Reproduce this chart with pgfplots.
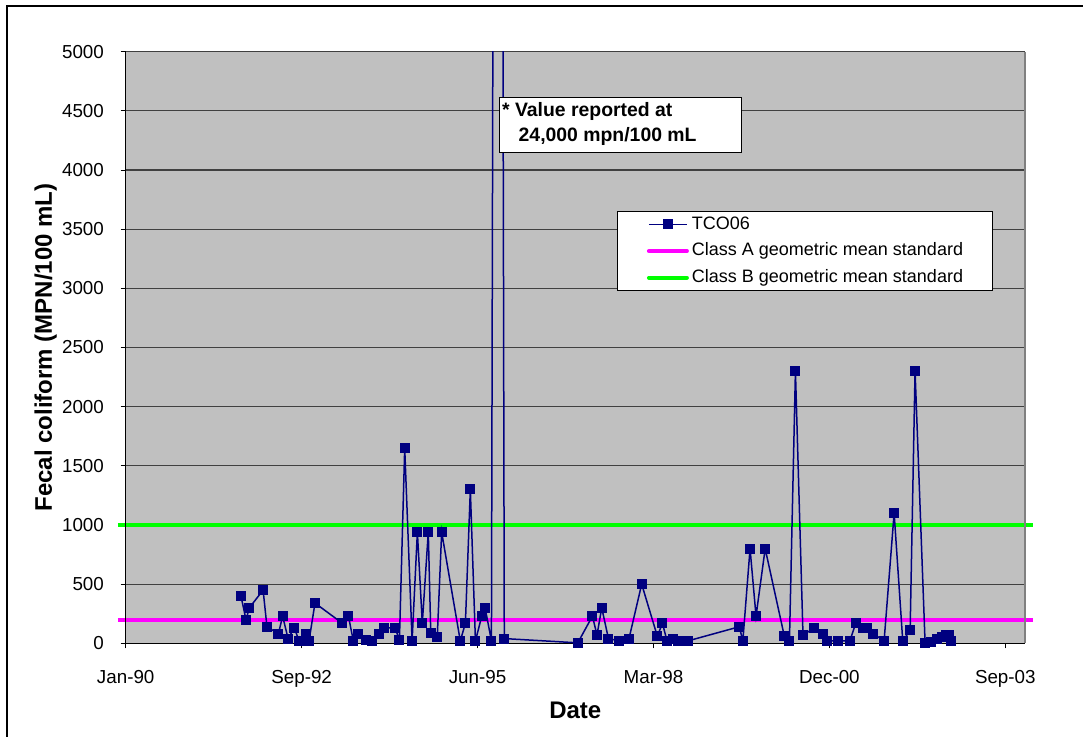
\documentclass[border=0pt]{standalone}
\usepackage{pgfplots}
\pgfplotsset{compat=1.18}
\usepackage{fontspec}
\setmainfont{Liberation Sans}
\definecolor{navyc}{RGB}{0,0,128}
\definecolor{magc}{RGB}{255,0,255}
\definecolor{greenc}{RGB}{0,255,0}
\definecolor{bgc}{RGB}{192,192,192}
\definecolor{gridc}{RGB}{64,64,64}
\pgfplotstableread{
day val
655 400
684 200
703 300
781 450
803 140
868 80
892 230
923 40
959 130
985 20
1027 80
1042 20
1076 340
1231 170
1266 230
1294 20
1323 80
1366 30
1398 20
1438 80
1469 130
1531 130
1556 30
1586 1650
1628 20
1658 940
1686 170
1720 940
1734 90
1771 50
1796 940
1902 20
1931 170
1959 1300
1988 20
2024 230
2043 300
2079 20
2117 24000
2152 40
2570 4
2653 230
2679 70
2706 300
2744 40
2806 20
2861 40
2933 500
3022 60
3051 170
3077 20
3113 40
3140 20
3195 20
3488 140
3508 20
3549 800
3583 230
3635 800
3744 60
3773 20
3807 2300
3850 70
3915 130
3962 80
3989 20
4051 20
4116 20
4150 170
4193 130
4213 130
4250 80
4311 20
4368 1100
4417 20
4459 110
4487 2300
4544 2
4576 15
4611 35
4640 50
4664 70
4680 70
4690 20
}\datatable
\begin{document}
\begin{tikzpicture}
\useasboundingbox (-62.85pt,-46.35pt) rectangle (478.65pt,321.65pt);
\draw[line width=1pt, black] (-59.35pt,-60pt) -- (-59.35pt,318.65pt) -- (500pt,318.65pt);
% axis 1: frame, grid, ticks, standards
\begin{axis}[
  at={(0pt,0pt)}, anchor=south west,
  scale only axis, width=449.65pt, height=295.8pt,
  xmin=0, xmax=5112, ymin=0, ymax=5000,
  axis background/.style={fill=bgc},
  axis line style={draw=none},
  xtick={0,1000,2000,3000,4000,5000},
  xticklabels={Jan-90,Sep-92,Jun-95,Mar-98,Dec-00,Sep-03},
  ytick={0,500,...,5000},
  ymajorgrids, grid style={line width=0.6pt, color=gridc},
  tick align=outside, major tick length=2.5pt,
  tick style={black, line width=0.5pt},
  xtick pos=bottom, ytick pos=left,
  ticklabel style={font=\fontsize{9.4}{11}\selectfont},
  xticklabel style={anchor=base, inner sep=0pt, yshift=-17.5pt},
  yticklabel style={anchor=east, inner sep=0pt, xshift=-8.2pt},
  /pgf/number format/assume math mode=true,
  /pgf/number format/1000 sep={},
  clip=false,
]
\addplot[magc, line width=2pt, forget plot] coordinates {(-44,200) (5158,200)};
\addplot[greenc, line width=2pt, forget plot] coordinates {(-44,1000) (5158,1000)};
\draw[black, line width=0.6pt] (rel axis cs:0,1) -- (rel axis cs:0,0) -- (rel axis cs:1,0);
\draw[gray, line width=1pt] (rel axis cs:1,0) -- (rel axis cs:1,1);
\end{axis}
% axis 2: data and legend
\begin{axis}[
  at={(0pt,0pt)}, anchor=south west,
  scale only axis, width=449.65pt, height=295.8pt,
  xmin=0, xmax=5112, ymin=0, ymax=5000,
  hide axis,
  legend cell align=left,
  legend style={at={(rel axis cs:0.546,0.7313)}, anchor=north west,
    draw=black, fill=white, line width=0.6pt,
    font=\fontsize{9}{10}\selectfont,
    inner xsep=14.8pt, inner ysep=2.2pt, row sep=4.5pt, column sep=1.5pt,
    nodes={inner sep=0pt, text height=6.8pt, text depth=2pt}},
  legend image code/.code={\draw[mark repeat=2, mark phase=2, #1] plot coordinates {(0pt,0pt) (9.5pt,0pt) (19pt,0pt)};},
]
\addplot[color=navyc, line width=0.75pt, mark=square*, mark size=2.2pt,
  mark options={solid, fill=navyc, line width=0.6pt}] table[x=day, y=val] {\datatable};
\addlegendentry{TCO06}
\addlegendimage{magc, line width=2pt, line cap=round}
\addlegendentry{Class A geometric mean standard}
\addlegendimage{greenc, line width=2pt, line cap=round}
\addlegendentry{Class B geometric mean standard}
\end{axis}
% annotation
\draw[black, line width=0.6pt, fill=white] (186.8pt,245.3pt) rectangle (308pt,273pt);
\node[anchor=base west, inner sep=0pt, font=\bfseries\fontsize{9.7}{11}\selectfont] at (188pt,263.65pt) {* Value reported at};
\node[anchor=base west, inner sep=0pt, font=\bfseries\fontsize{9.7}{11}\selectfont] at (196.3pt,251.15pt) {24,000 mpn/100 mL};
% axis titles
\node[anchor=base, inner sep=0pt, font=\bfseries\fontsize{12}{14}\selectfont] at (224.8pt,-37.35pt) {Date};
\node[rotate=90, anchor=base, inner sep=0pt, font=\bfseries\fontsize{12}{14}\selectfont] at (-36.85pt,147.9pt) {Fecal coliform (MPN/100 mL)};
\end{tikzpicture}
\end{document}
